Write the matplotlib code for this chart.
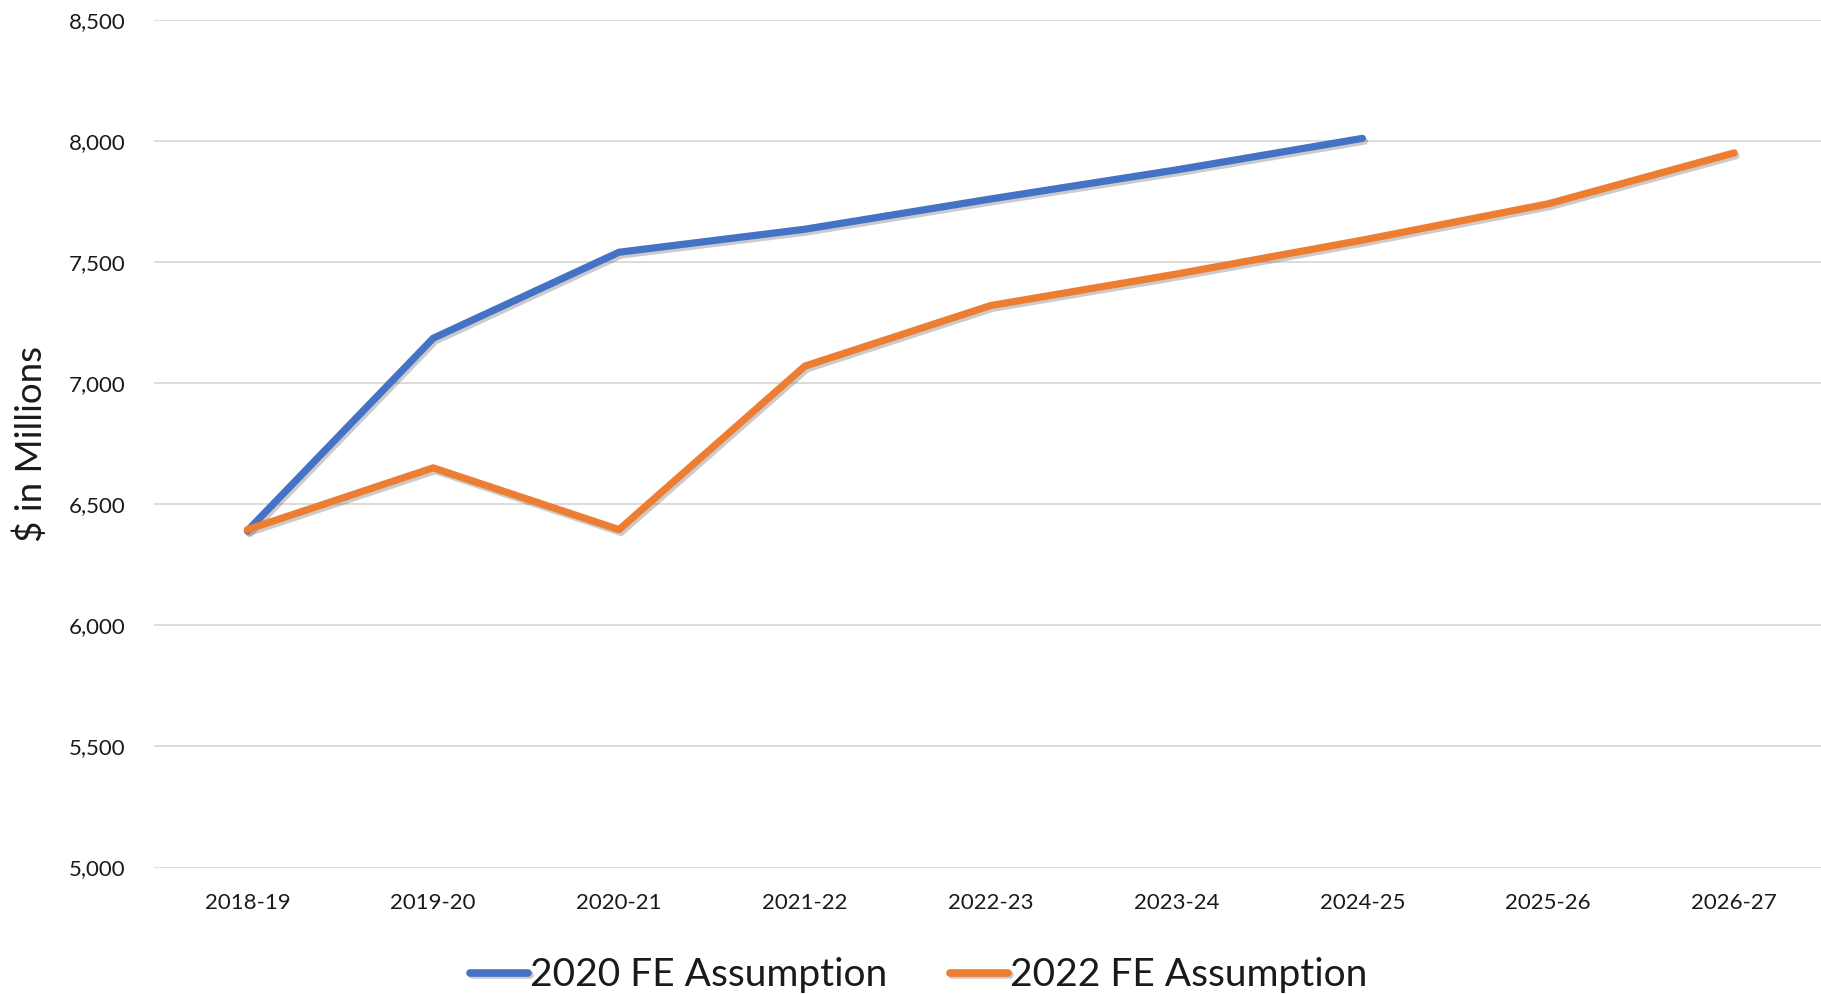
import matplotlib
matplotlib.use("Agg")
import matplotlib.pyplot as plt
import matplotlib.patheffects as pe
from matplotlib.ticker import FuncFormatter

categories = ["2018-19", "2019-20", "2020-21", "2021-22", "2022-23",
              "2023-24", "2024-25", "2025-26", "2026-27"]
fe_2020 = [6390, 7185, 7540, 7635, 7760, 7880, 8010]
fe_2022 = [6395, 6650, 6395, 7070, 7320, 7450, 7590, 7740, 7950]
series_labels = ["2020 FE Assumption", "2022 FE Assumption"]
y_ticks = [5000, 5500, 6000, 6500, 7000, 7500, 8000, 8500]

plt.rcParams['font.family'] = ['Lato', 'DejaVu Sans']

fig = plt.figure(figsize=(18.21, 9.94), dpi=100)
ax = fig.add_axes([0.0848, 0.1272, 0.9185, 0.8530])

blue = "#4472C4"
orange = "#ED7D31"
shadow = [pe.SimpleLineShadow(offset=(1.5, -2.0), shadow_color="#555555", alpha=0.3),
          pe.Normal()]

x1 = list(range(len(fe_2020)))
x2 = list(range(len(fe_2022)))
ax.plot(x1, fe_2020, color=blue, lw=5.2, solid_capstyle="round",
        solid_joinstyle="round", label=series_labels[0], path_effects=shadow, zorder=3)
ax.plot(x2, fe_2022, color=orange, lw=5.2, solid_capstyle="round",
        solid_joinstyle="round", label=series_labels[1], path_effects=shadow, zorder=3)

ax.set_xlim(-0.5, len(categories) - 0.5)
ax.set_ylim(5000, 8500)
ax.set_xticks(range(len(categories)))
ax.set_xticklabels(categories)
ax.set_yticks(y_ticks)
ax.yaxis.set_major_formatter(FuncFormatter(lambda v, p: f"{int(v):,}"))
ax.tick_params(axis="both", length=0, labelsize=16, colors="#1A1A1A")
ax.tick_params(axis="y", pad=21)
ax.tick_params(axis="x", pad=18)
ax.grid(axis="y", color="#D9D9D9", lw=1.3)
ax.set_axisbelow(True)
for s in ax.spines.values():
    s.set_visible(False)

fig.text(31 / 1821, 0.5535, "$ in Millions", rotation=90, fontsize=26.5,
         ha="center", va="center", color="#1A1A1A")

leg = fig.legend(loc="center", bbox_to_anchor=(0.5045, 0.019), ncol=2,
                 frameon=False, fontsize=28, handlelength=1.5,
                 handletextpad=0.05, columnspacing=1.6, borderpad=0)
for line in leg.get_lines():
    line.set_linewidth(5.5)
    line.set_solid_capstyle("round")
for t in leg.get_texts():
    t.set_color("#1A1A1A")

fig.savefig("out.png", dpi=100, facecolor="white")
